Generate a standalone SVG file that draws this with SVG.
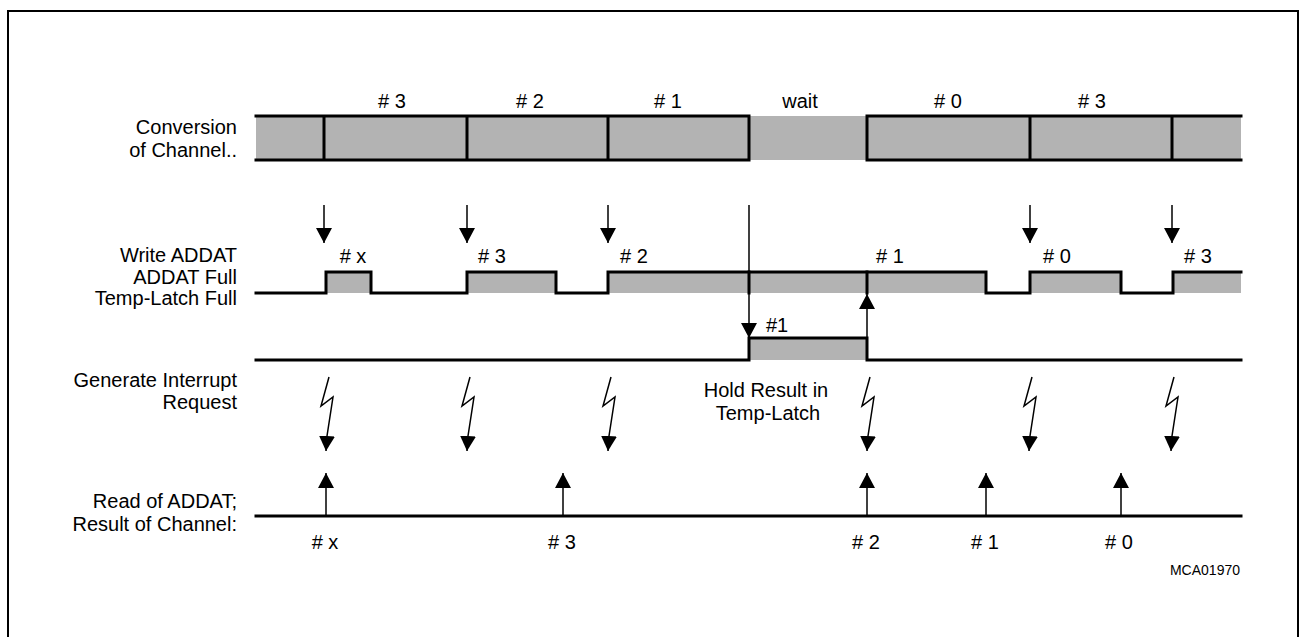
<svg xmlns="http://www.w3.org/2000/svg" width="1300" height="637" viewBox="0 0 1300 637">
<style>
text{font-family:"Liberation Sans",Arial,sans-serif;font-size:20px;fill:#000}
.lbl{text-anchor:end}
.c{text-anchor:middle}
.small{font-size:14px;text-anchor:end}
.sig{fill:none;stroke:#000;stroke-width:3;stroke-linejoin:miter;stroke-linecap:square}
.fill{fill:#b3b3b3;stroke:none}
.arr{fill:none;stroke:#000;stroke-width:1.5;marker-end:url(#ah)}
</style>
<defs>
<marker id="ah" viewBox="0 0 15 16" refX="15" refY="8" markerWidth="15" markerHeight="16" markerUnits="userSpaceOnUse" orient="auto">
<path d="M0,0 L15,8 L0,16 z" fill="#000"/>
</marker>
</defs>
<rect width="1300" height="637" fill="#fff"/>
<path d="M8,640 V11 H1298 V640" fill="none" stroke="#000" stroke-width="2"/>

<g id="labels">
<text class="lbl" x="237" y="134">Conversion</text>
<text class="lbl" x="237" y="157">of Channel..</text>
<text class="lbl" x="237" y="262">Write ADDAT</text>
<text class="lbl" x="237" y="284">ADDAT Full</text>
<text class="lbl" x="237" y="305">Temp-Latch Full</text>
<text class="lbl" x="237" y="387">Generate Interrupt</text>
<text class="lbl" x="237" y="409">Request</text>
<text class="lbl" x="237" y="508">Read of ADDAT;</text>
<text class="lbl" x="237" y="531">Result of Channel:</text>
</g>

<g id="conversion">
<rect class="fill" x="256" y="116" width="985" height="44"/>
<path class="sig" d="M256,116 H749 V160 H256 M324,116 V160 M467,116 V160 M608,116 V160"/>
<path class="sig" d="M1241,116 H867 V160 H1241 M1030,116 V160 M1172,116 V160" stroke-linecap="butt"/>
<text class="c" x="392" y="108"># 3</text>
<text class="c" x="530" y="108"># 2</text>
<text class="c" x="668" y="108"># 1</text>
<text class="c" x="800" y="108">wait</text>
<text class="c" x="948" y="108"># 0</text>
<text class="c" x="1092" y="108"># 3</text>
</g>

<g id="addat-full">
<rect class="fill" x="326" y="272" width="45" height="21"/>
<rect class="fill" x="467" y="272" width="89" height="21"/>
<rect class="fill" x="608" y="272" width="378" height="21"/>
<rect class="fill" x="1030" y="272" width="91" height="21"/>
<rect class="fill" x="1173" y="272" width="68" height="21"/>
<path class="sig" d="M256,293 H326 V272 H371 V293 H467 V272 H556 V293 H608 V272 H986 V293 H1030 V272 H1121 V293 H1173 V272 H1241" stroke-linecap="butt"/>
<path class="sig" d="M749,272 V293 M867,272 V293" stroke-linecap="butt"/>
<text class="c" x="353" y="263"># x</text>
<text class="c" x="492" y="263"># 3</text>
<text class="c" x="634" y="263"># 2</text>
<text class="c" x="890" y="263"># 1</text>
<text class="c" x="1057" y="263"># 0</text>
<text class="c" x="1198" y="263"># 3</text>
</g>

<g id="temp-latch">
<rect class="fill" x="749" y="338" width="118" height="22"/>
<path class="sig" d="M256,360 H749 V338 H867 V360 H1241" stroke-linecap="butt"/>
<text class="c" x="777" y="332">#1</text>
</g>

<g id="hold-note">
<text class="c" x="766" y="397">Hold Result in</text>
<text class="c" x="768" y="420">Temp-Latch</text>
</g>

<g id="read-line">
<path class="sig" d="M256,516 H1241" stroke-linecap="butt"/>
<text class="c" x="325" y="549"># x</text>
<text class="c" x="562" y="549"># 3</text>
<text class="c" x="866" y="549"># 2</text>
<text class="c" x="985" y="549"># 1</text>
<text class="c" x="1119" y="549"># 0</text>
<text class="small" x="1240" y="575">MCA01970</text>
</g>

<g id="connectors">
<!-- write ADDAT arrows -->
<line class="arr" x1="324" y1="205" x2="324" y2="243"/>
<line class="arr" x1="467" y1="205" x2="467" y2="243"/>
<line class="arr" x1="608" y1="205" x2="608" y2="243"/>
<line class="arr" x1="1030" y1="205" x2="1030" y2="243"/>
<line class="arr" x1="1172" y1="205" x2="1172" y2="243"/>
<!-- temp latch transfer -->
<line class="arr" x1="749" y1="205" x2="749" y2="338"/>
<line class="arr" x1="867" y1="338" x2="867" y2="294"/>
<!-- interrupt lightning -->
<path class="arr" d="M329,377 L321,406 L333,397 L327,436 L326,451"/>
<path class="arr" d="M470,377 L462,406 L474,397 L468,436 L467,451"/>
<path class="arr" d="M611,377 L603,406 L615,397 L609,436 L608,451"/>
<path class="arr" d="M870,377 L862,406 L874,397 L868,436 L867,451"/>
<path class="arr" d="M1032,377 L1024,406 L1036,397 L1030,436 L1029,451"/>
<path class="arr" d="M1174,377 L1166,406 L1178,397 L1172,436 L1171,451"/>
<!-- read arrows -->
<line class="arr" x1="326" y1="516" x2="326" y2="473"/>
<line class="arr" x1="563" y1="516" x2="563" y2="473"/>
<line class="arr" x1="867" y1="516" x2="867" y2="473"/>
<line class="arr" x1="986" y1="516" x2="986" y2="473"/>
<line class="arr" x1="1121" y1="516" x2="1121" y2="473"/>
</g>
</svg>
